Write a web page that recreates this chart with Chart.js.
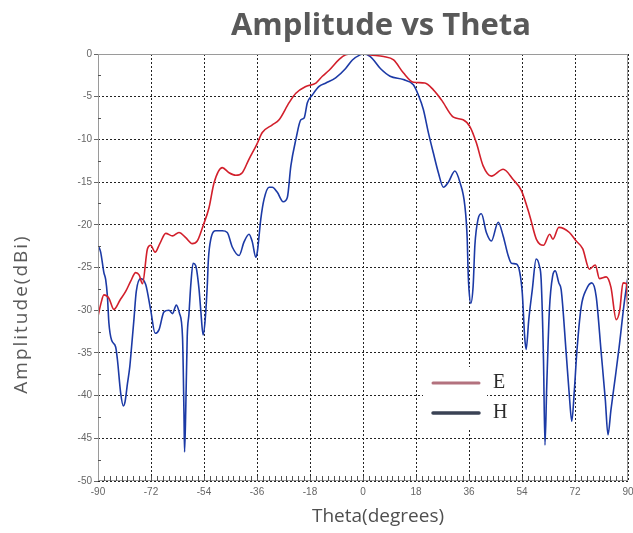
<!DOCTYPE html>
<html>
<head>
<meta charset="utf-8">
<script src="https://cdn.jsdelivr.net/npm/chart.js@4/dist/chart.umd.min.js"></script>
<style>
  html, body { margin: 0; padding: 0; background: #fff; }
  #wrap { width: 633px; height: 533px; }
</style>
</head>
<body>
<div id="wrap"><canvas id="pattern" width="633" height="533"></canvas></div>
<script>
const thetaE = [-90, -89, -88, -86.3, -84.6, -82.5, -80.6, -78.9, -77.2, -76, -74.9, -73.2, -72.1, -70.6, -69, -67, -64.7, -62.5, -60.2, -58, -56.3, -54.3, -52.3, -50.6, -47.8, -45.5, -43.2, -41, -38.7, -36.1, -34.2, -30.8, -28.5, -25.1, -22.8, -19.4, -16, -13.8, -11.5, -8, -5.9, -4, -1.3, 0, 1, 2.5, 7, 10.4, 13.7, 17.1, 21, 23.9, 26.7, 30.7, 34, 36.3, 38.5, 40.8, 43.6, 47.6, 51, 53.8, 56.6, 58.9, 61.3, 63.4, 64.5, 66.5, 70.1, 72.4, 74.6, 76.9, 78.9, 80.3, 82.6, 84.2, 86, 87.2, 88.3, 89.4, 90];
const ampE = [-30.7, -29.2, -28.2, -28.6, -29.9, -28.8, -27.8, -26.6, -25.6, -25.9, -26.9, -22.8, -22.4, -23.2, -22.2, -21.0, -21.3, -20.9, -21.5, -22.2, -21.9, -20.1, -18, -15.1, -13.3, -13.9, -14.2, -13.9, -12.3, -10.6, -9.2, -8.3, -7.7, -5.7, -4.6, -3.8, -3.4, -2.6, -1.9, -0.6, -0.1, 0, 0, 0, 0, -0.1, -0.3, -0.7, -2.2, -3.3, -3.4, -4.2, -5.4, -7.4, -7.7, -8.5, -10.4, -13.1, -14.3, -13.5, -14.7, -16, -18.9, -21.7, -22.4, -21.1, -21.7, -20.3, -20.9, -21.9, -22.8, -25.2, -24.7, -26.3, -26.1, -27.3, -31.1, -30, -26.8, -26.9, -30.3];

const thetaH = [-90, -89.1, -88, -87.4, -86.8, -86.3, -85.4, -84, -83.4, -82.3, -81.4, -80.8, -80, -79.2, -78.6, -77.8, -77, -75.5, -73.8, -72.1, -70.6, -69.3, -67.6, -65.9, -64.7, -63.4, -62.3, -61.3, -60.8, -60.6, -60.2, -59.7, -59.1, -58.5, -57.7, -56.8, -55.7, -55.1, -54.3, -53.6, -52.9, -52.5, -51.7, -50, -47.8, -46.1, -44.4, -42.1, -40.4, -38.7, -37.6, -36.4, -35.9, -34.7, -33.6, -31.9, -30.8, -29.1, -27.1, -25.7, -24.5, -22.8, -21.1, -20, -18.9, -17.2, -14.9, -12.6, -9.3, -5.9, -3.6, -1, 0, 2.5, 5.9, 9.2, 13.7, 17.1, 18.8, 20.5, 22.2, 23.9, 25.6, 27.3, 29, 31.2, 32.9, 34.6, 35.4, 35.7, 36, 36.6, 37.4, 38, 39.1, 40.2, 41.9, 43.6, 45.9, 47.6, 49.3, 50.4, 52.1, 53.2, 54.1, 54.9, 55.4, 56.3, 57.5, 58.8, 59.9, 60.5, 61.3, 61.8, 62.4, 63.3, 64.4, 65.3, 66.5, 67.3, 69, 70.1, 70.9, 71.8, 72.6, 74.1, 75.8, 77.7, 79.2, 80.9, 82.3, 83.2, 84.2, 85.7, 87, 88.7, 90];
const ampH = [-22.4, -23.2, -25.6, -26.4, -28.4, -31.5, -33.5, -34.3, -35.8, -39.7, -41.2, -40.7, -38.6, -36.6, -34.3, -31.1, -27.8, -26.3, -27, -30, -32.7, -32.3, -30.2, -30, -30.4, -29.4, -30.4, -33.1, -42.1, -46.6, -41.7, -33.1, -30.4, -27.1, -24.5, -24.8, -27.5, -30, -32.9, -31.1, -27.2, -24, -21.7, -20.7, -20.7, -20.9, -22.6, -23.6, -22, -21.1, -22, -23.8, -23.2, -19.3, -17, -15.6, -15.6, -16.2, -17.3, -16.8, -13.1, -10, -7.7, -7.5, -5.7, -4.8, -3.8, -3.4, -2.8, -1.7, -0.7, -0.1, 0, -0.3, -1.7, -2.6, -3, -3.6, -4.8, -6.5, -9.2, -11.6, -13.9, -15.6, -15, -13.7, -15, -17.8, -21.7, -25.5, -27.6, -29.2, -27.2, -22.4, -19.3, -18.7, -20.9, -21.9, -19.7, -21.3, -23.6, -24.5, -24.6, -25.5, -28, -33.1, -34.6, -31.1, -27.6, -24, -24.8, -26.4, -35.8, -45.8, -38.9, -30, -26, -25.4, -26.8, -27.6, -35, -40.1, -43, -39.3, -35, -29.6, -27.6, -26.8, -28.4, -35, -40.5, -44.6, -41.7, -37.8, -34.3, -29.2, -26.1];

const xTicks = [-90, -72, -54, -36, -18, 0, 18, 36, 54, 72, 90];
const yTicks = [0, -5, -10, -15, -20, -25, -30, -35, -40, -45, -50];
const seriesNames = ['E', 'H'];

const toPoints = (xs, ys) => xs.map((v, i) => ({ x: v, y: ys[i] }));

const decor = {
  id: 'decor',
  beforeDraw(chart) {
    const ctx = chart.ctx;
    ctx.save();
    ctx.fillStyle = '#fff';
    ctx.fillRect(0, 0, chart.width, chart.height);
    ctx.restore();
  },
  afterDraw(chart) {
    const { ctx, chartArea: a, scales: { x, y } } = chart;
    ctx.save();
    ctx.strokeStyle = '#9a9a9a';
    ctx.lineWidth = 1;
    ctx.strokeRect(a.left + 0.5, a.top + 0.5, a.right - a.left - 1, a.bottom - a.top - 1);

    // minor ticks
    ctx.strokeStyle = '#555';
    ctx.beginPath();
    for (let t = -88; t < 90; t += 2) {
      const px = Math.round(x.getPixelForValue(t)) + 0.5;
      ctx.moveTo(px, a.bottom);
      ctx.lineTo(px, a.bottom - 5);
    }
    for (let v = -2.5; v > -50; v -= 5) {
      const py = Math.round(y.getPixelForValue(v)) + 0.5;
      ctx.moveTo(a.left, py);
      ctx.lineTo(a.left + 3, py);
    }
    ctx.stroke();

    // titles
    ctx.fillStyle = '#595959';
    ctx.textAlign = 'center';
    ctx.textBaseline = 'alphabetic';
    ctx.font = 'bold 31px "Open Sans", sans-serif';
    ctx.fillText('Amplitude vs Theta', a.left + 283, 35);

    ctx.textBaseline = 'middle';
    ctx.fillStyle = '#4f4f4f';
    ctx.font = '19px "Open Sans", sans-serif';
    ctx.fillText('Theta(degrees)', a.left + 280, 517);

    ctx.save();
    ctx.translate(22, 314);
    ctx.rotate(-Math.PI / 2);
    ctx.fillStyle = '#5a5a5a';
    ctx.font = '19px "Open Sans", sans-serif';
    ctx.letterSpacing = '2px';
    ctx.fillText('Amplitude(dBi)', 0, 0);
    ctx.restore();

    // legend
    const lx = a.left + 325, ly = a.top + 313;
    ctx.fillStyle = '#fff';
    ctx.fillRect(lx, ly, 64, 61);
    ctx.lineCap = 'round';
    ctx.lineWidth = 3;
    ctx.strokeStyle = '#b3727e';
    ctx.beginPath();
    ctx.moveTo(lx + 10, ly + 16);
    ctx.lineTo(lx + 56, ly + 16);
    ctx.stroke();
    ctx.lineWidth = 3.5;
    ctx.strokeStyle = '#3a4254';
    ctx.beginPath();
    ctx.moveTo(lx + 10, ly + 46);
    ctx.lineTo(lx + 56, ly + 46);
    ctx.stroke();
    ctx.fillStyle = '#2b2b2b';
    ctx.textAlign = 'left';
    ctx.font = '20px "Liberation Serif", serif';
    ctx.fillText(seriesNames[0], lx + 70, ly + 16);
    ctx.fillText(seriesNames[1], lx + 70, ly + 46);
    ctx.restore();
  }
};

new Chart(document.getElementById('pattern'), {
  type: 'line',
  data: {
    datasets: [
      {
        label: seriesNames[0],
        data: toPoints(thetaE, ampE),
        borderColor: '#d21f2b',
        borderWidth: 1.6,
        pointRadius: 0,
        cubicInterpolationMode: 'monotone'
      },
      {
        label: seriesNames[1],
        data: toPoints(thetaH, ampH),
        borderColor: '#1c3aa6',
        borderWidth: 1.6,
        pointRadius: 0,
        cubicInterpolationMode: 'monotone'
      }
    ]
  },
  options: {
    responsive: false,
    animation: false,
    layout: { padding: { left: 0, top: 54, right: 5, bottom: 0 } },
    plugins: {
      legend: { display: false },
      title: { display: false },
      tooltip: { enabled: false }
    },
    scales: {
      x: {
        type: 'linear',
        min: -90,
        max: 90,
        afterBuildTicks(scale) { scale.ticks = xTicks.map(v => ({ value: v })); },
        afterFit(scale) { scale.height = 52; scale.paddingLeft = 0; scale.paddingRight = 0; },
        ticks: { color: '#666', font: { size: 10, family: 'Arial, "Liberation Sans", sans-serif' }, padding: 5, maxRotation: 0, autoSkip: false },
        grid: { color: '#222', lineWidth: 1, drawTicks: false },
        border: { display: false, dash: [2, 2] }
      },
      y: {
        type: 'linear',
        min: -50,
        max: 0,
        afterBuildTicks(scale) { scale.ticks = yTicks.map(v => ({ value: v })); },
        afterFit(scale) { scale.width = 98; scale.paddingTop = 0; scale.paddingBottom = 0; },
        ticks: { color: '#666', font: { size: 10, family: 'Arial, "Liberation Sans", sans-serif' }, padding: 2, autoSkip: false },
        grid: { color: '#222', lineWidth: 1, tickLength: 4, tickColor: '#666' },
        border: { display: false, dash: [2, 2] }
      }
    }
  },
  plugins: [decor]
});
</script>
</body>
</html>
